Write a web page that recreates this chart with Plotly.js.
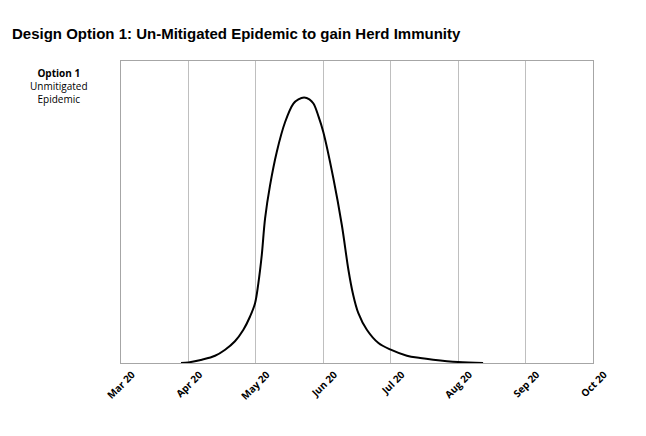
<!DOCTYPE html>
<html>
<head>
<meta charset="utf-8">
<script src="https://cdn.plot.ly/plotly-3.0.1.min.js"></script>
<style>html,body{margin:0;padding:0;background:#fff;}#chart{width:646px;height:436px;}</style>
</head>
<body>
<div id="chart"></div>
<script>
// Months shown on the category-like date axis
const monthLabels = ["Mar 20", "Apr 20", "May 20", "Jun 20", "Jul 20", "Aug 20", "Sep 20", "Oct 20"];
const monthIndex = [0, 1, 2, 3, 4, 5, 6, 7];

// Epidemic curve: time in months since Mar 20, relative level (% of axis height)
const timeMonths = [0.89, 1.0, 1.2, 1.395, 1.544, 1.69, 1.815, 1.914, 1.988, 2.037, 2.088, 2.137, 2.211, 2.31, 2.434, 2.557, 2.631, 2.716, 2.794, 2.854, 2.93, 3.0, 3.15, 3.275, 3.373, 3.438, 3.52, 3.646, 3.818, 4.0, 4.24, 4.437, 4.63, 5.0, 5.37];
const epidemicLevel = [0, 0.2, 1.1, 2.4, 4.4, 7.2, 11.0, 15.4, 19.8, 26.4, 35.8, 47.9, 58.9, 69.9, 79.8, 85.9, 87.3, 87.9, 87.3, 85.9, 81.6, 76.5, 61.1, 45.7, 30.8, 23.1, 16.5, 11.0, 6.6, 4.4, 2.4, 1.65, 1.1, 0.33, 0];

const trace = {
  x: timeMonths,
  y: epidemicLevel,
  type: "scatter",
  mode: "lines",
  line: {color: "#000000", width: 2, shape: "spline", smoothing: 1},
  hoverinfo: "skip"
};

const layout = {
  width: 646, height: 436,
  margin: {l: 121, r: 53, t: 61, b: 73},
  paper_bgcolor: "#ffffff", plot_bgcolor: "#ffffff",
  showlegend: false,
  title: {
    text: "Design Option 1: Un-Mitigated Epidemic to gain Herd Immunity",
    font: {family: "Liberation Sans, Arial, sans-serif", size: 15, color: "#000", weight: "bold"},
    x: 12 / 646, xref: "container", xanchor: "left", y: 1 - 34 / 436, yref: "container", yanchor: "middle",
    automargin: false
  },
  xaxis: {
    range: [0, 7],
    tickmode: "array", tickvals: monthIndex, ticktext: monthLabels,
    tickangle: -45,
    ticklabelshift: 11,
    ticklabelstandoff: 1,
    tickfont: {family: "Open Sans, sans-serif", size: 10, color: "#000", weight: "bold"},
    showgrid: true, gridcolor: "#bfbfbf", gridwidth: 1,
    zeroline: false, showline: true, linecolor: "#a6a6a6", linewidth: 1, mirror: true,
    ticks: "", fixedrange: true
  },
  yaxis: {
    range: [0, 100],
    showticklabels: false, showgrid: false, zeroline: false,
    showline: true, linecolor: "#a6a6a6", linewidth: 1, mirror: true,
    ticks: "", fixedrange: true
  },
  annotations: [
    {text: "<b>Option 1</b><br>Unmitigated<br>Epidemic", xref: "paper", yref: "paper",
     x: -62 / 471.7, y: 0.99, xanchor: "center", yanchor: "top", showarrow: false, align: "center",
     font: {family: "Open Sans, sans-serif", size: 10, color: "#000"}}
  ]
};

Plotly.newPlot("chart", [trace], layout, {displayModeBar: false, staticPlot: true});
</script>
</body>
</html>
